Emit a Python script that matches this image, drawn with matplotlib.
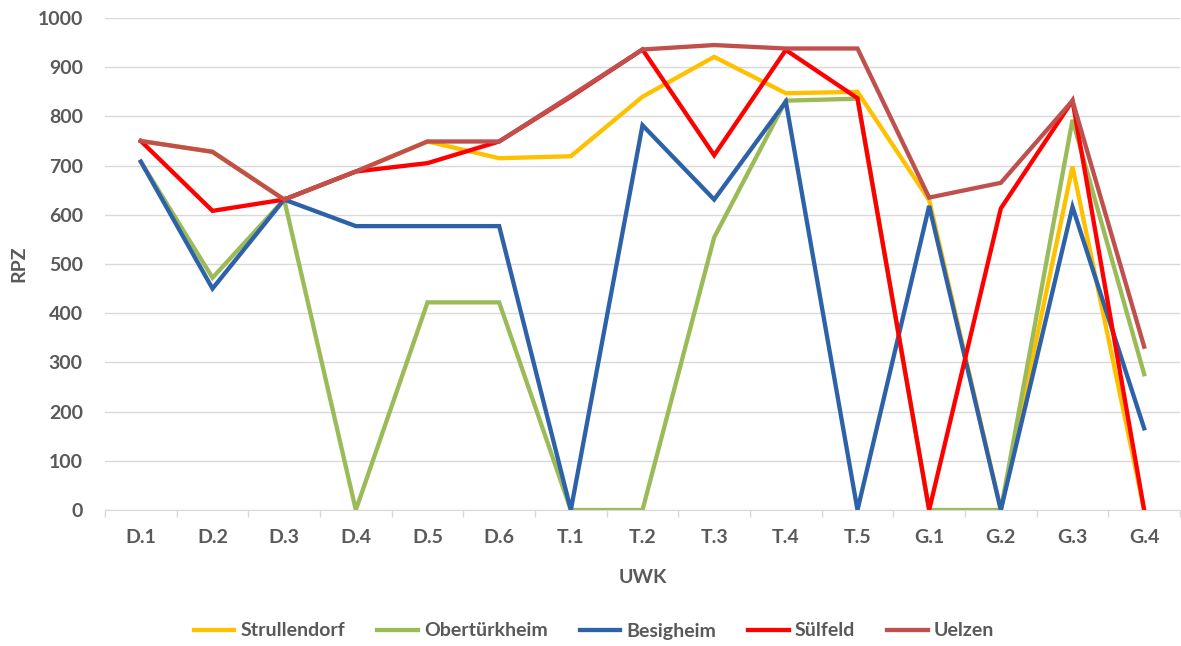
import matplotlib
matplotlib.use("Agg")
import matplotlib.pyplot as plt
from matplotlib.ticker import FixedLocator, MultipleLocator

# RPZ per UWK for five sites
uwk = ["D.1", "D.2", "D.3", "D.4", "D.5", "D.6", "T.1", "T.2", "T.3", "T.4",
       "T.5", "G.1", "G.2", "G.3", "G.4"]

strullendorf = [750, 728, 631, 688, 749, 715, 719, 840, 921, 847, 850, 630, 0, 698, 0]
oberturkheim = [708, 472, 631, 0, 422, 422, 0, 0, 554, 832, 836, 0, 0, 793, 276]
besigheim = [708, 450, 631, 577, 577, 577, 0, 782, 631, 830, 0, 618, 0, 616, 166]
sulfeld = [750, 608, 631, 688, 705, 749, 840, 936, 721, 935, 837, 0, 613, 832, 0]
uelzen = [750, 728, 631, 688, 749, 749, 842, 936, 945, 938, 938, 635, 665, 832, 332]

series = [
    ("Strullendorf", strullendorf, "#FFC000"),
    ("Obertürkheim", oberturkheim, "#9BBB59"),
    ("Besigheim", besigheim, "#2E62A8"),
    ("Sülfeld", sulfeld, "#FF0000"),
    ("Uelzen", uelzen, "#C0504D"),
]

plt.rcParams["font.family"] = ["Lato", "DejaVu Sans"]
TXT = "#595959"
FS = 14

fig = plt.figure(figsize=(11.81, 6.46), dpi=100)
ax = fig.add_axes([105 / 1181, 1 - 510 / 646, 1075 / 1181, 492 / 646])

x = list(range(len(uwk)))
for name, vals, col in series:
    ax.plot(x, vals, color=col, lw=3.1, label=name, solid_joinstyle="miter")

ax.set_xlim(-0.5, len(uwk) - 0.5)
ax.set_ylim(0, 1000)
ax.yaxis.set_major_locator(MultipleLocator(100))
ax.grid(axis="y", color="#D9D9D9", lw=1)
ax.set_axisbelow(True)

ax.set_xticks(x)
ax.set_xticklabels(uwk)
ax.xaxis.set_minor_locator(FixedLocator([i - 0.5 for i in range(len(uwk) + 1)]))
ax.tick_params(axis="x", which="major", length=0, pad=14)
ax.tick_params(axis="x", which="minor", length=5, color="#D9D9D9", width=1)
ax.tick_params(axis="y", length=0, pad=16)
for lab in ax.get_xticklabels() + ax.get_yticklabels():
    lab.set_fontweight("bold")
    lab.set_fontsize(FS)
    lab.set_color(TXT)

for side in ("left", "right", "top"):
    ax.spines[side].set_visible(False)
ax.spines["bottom"].set_color("#D9D9D9")

ax.set_xlabel("UWK", fontsize=FS, fontweight="bold", color=TXT, labelpad=16)
ax.set_ylabel("RPZ", fontsize=FS, fontweight="bold", color=TXT)
# pin the y label near the left edge of the figure
ax.yaxis.set_label_coords(-78 / 1075, 0.5)

leg = fig.legend(loc="center", bbox_to_anchor=(0.503, 1 - 631 / 646), ncol=5,
                 frameon=False, handlelength=2.1, columnspacing=1.65,
                 handletextpad=0.3, prop={"weight": "bold", "size": FS})
for t in leg.get_texts():
    t.set_color(TXT)

fig.savefig("out.png", dpi=100)
